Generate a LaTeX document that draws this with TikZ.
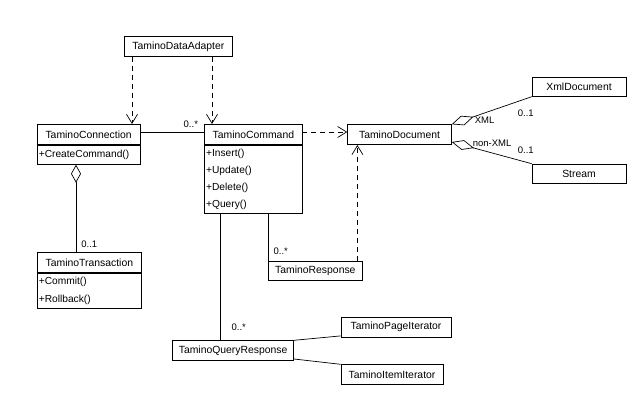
\documentclass[tikz,border=0pt]{standalone}
\usepackage{fontspec}
\setmainfont{Liberation Sans}
\usetikzlibrary{positioning, calc, arrows.meta, shapes.geometric}
\definecolor{Ink}{HTML}{000000}
\definecolor{Paper}{HTML}{FFFFFF}
\tikzset{
    classbox/.style={rectangle, draw=Ink, fill=Paper, line width=0.7pt, inner sep=0pt, anchor=north west, font=\fontsize{10.4}{12}\selectfont, minimum height=20pt},
    opsbox/.style={rectangle, draw=Ink, fill=Paper, line width=0.7pt, inner xsep=1.5pt, inner ysep=0pt, anchor=north west, align=left, font=\fontsize{10.2}{17.3}\selectfont},
    mult/.style={inner sep=0pt, font=\fontsize{9.5}{11}\selectfont},
    link/.style={line width=0.7pt, color=Ink},
    depend/.style={link, dash pattern=on 5pt off 4pt, -{Straight Barb[length=9pt, width=11pt]}},
    aggreg/.style={link, {Diamond[open, length=#1, width=10pt]}-},
    aggreg/.default=18pt,
}

\begin{document}
\begin{tikzpicture}[x=1pt, y=-1pt]
    \useasboundingbox[fill=Paper] (0,0) rectangle (630,400);

    % --- Classi ---
    \node[classbox, minimum width=108pt] (adapter) at (124,36) {TaminoDataAdapter};

    \node[classbox, minimum width=102.5pt] (conn) at (37,124) {TaminoConnection};
    \node[opsbox, text width=99.5pt, minimum height=19.3pt] (connops) at (conn.south west) {+CreateCommand()};

    \node[classbox, minimum width=97.4pt] (cmd) at (204.3,124) {TaminoCommand};
    \node[opsbox, text width=94.4pt, minimum height=68.7pt] (cmdops) at (cmd.south west)
        {+Insert()\\+Update()\\+Delete()\\+Query()};

    \node[classbox, minimum width=104pt] (trans) at (37,252.3) {TaminoTransaction};
    \node[opsbox, text width=101pt, minimum height=35pt] (transops) at (trans.south west)
        {+Commit()\\+Rollback()};

    \node[classbox, minimum width=103.7pt] (doc) at (347.3,124.3) {TaminoDocument};
    \node[classbox, minimum width=94pt, minimum height=19.3pt] (xmldoc) at (531.7,76.7) {XmlDocument};
    \node[classbox, minimum width=94pt, minimum height=19.3pt] (stream) at (531.7,163.7) {Stream};

    \node[classbox, minimum width=93.4pt, minimum height=19.6pt] (resp) at (268.3,260.7) {TaminoResponse};
    \node[classbox, minimum width=121pt] (qresp) at (172.3,340.3) {TaminoQueryResponse};
    \node[classbox, minimum width=110pt] (pageit) at (340.7,316.7) {TaminoPageIterator};
    \node[classbox, minimum width=102pt] (itemit) at (340.7,364.3) {TaminoItemIterator};

    % --- Dipendenze (tratteggiate) ---
    \draw[depend] ([xshift=8pt]adapter.south west) -- ([xshift=8pt]adapter.south west |- conn.north);
    \draw[depend] ([xshift=88pt]adapter.south west) -- ([xshift=88pt]adapter.south west |- cmd.north);
    \draw[depend] ([yshift=-8pt]cmd.north east) -- ([yshift=-8pt]cmd.north east -| doc.west);
    \draw[depend] ([xshift=-5pt]resp.north east) -- ([xshift=-5pt]resp.north east |- doc.south);

    % --- Associazioni ---
    \draw[link] ([yshift=-8pt]conn.north east) -- ([yshift=-8pt]conn.north east -| cmd.west)
        node[mult, pos=1, anchor=south east, xshift=-6pt, yshift=4pt] (mcmd) {0..*};
    \draw[link] (resp.north west |- cmdops.south) -- (resp.north west)
        node[mult, pos=1, anchor=south west, xshift=5pt, yshift=6pt] (mresp) {0..*};
    \draw[link] ([xshift=16pt]cmdops.south west) -- ([xshift=16pt]cmdops.south west |- qresp.north)
        node[mult, pos=1, anchor=south west, xshift=11pt, yshift=9pt] (mqresp) {0..*};
    \draw[link] (qresp.north east) -- ([yshift=1.5pt]pageit.south west);
    \draw[link] ([yshift=2pt]qresp.south east) -- (itemit.north west);

    % --- Aggregazioni ---
    \draw[aggreg] ([xshift=39pt]connops.south west) -- ([xshift=39pt]connops.south west |- trans.north)
        node[mult, pos=1, anchor=south west, xshift=5pt, yshift=4pt] (mtrans) {0..1};
    \draw[aggreg=23pt] (doc.north east) -- (xmldoc.south west);
    \draw[aggreg=23pt] ([yshift=3pt]doc.south east) -- (stream.north west);

    % Etichette dei ruoli
    \node[mult, anchor=west] (lxml) at ([xshift=23pt, yshift=4pt]doc.north east) {XML};
    \node[mult, anchor=west] (mxml) at ([xshift=-14pt, yshift=-17pt]xmldoc.south west) {0..1};
    \node[mult, anchor=west] (lnonxml) at ([xshift=21pt, yshift=2pt]doc.south east) {non-XML};
    \node[mult, anchor=west] (mstream) at ([xshift=-14pt, yshift=13pt]stream.north west) {0..1};
\end{tikzpicture}
\end{document}
